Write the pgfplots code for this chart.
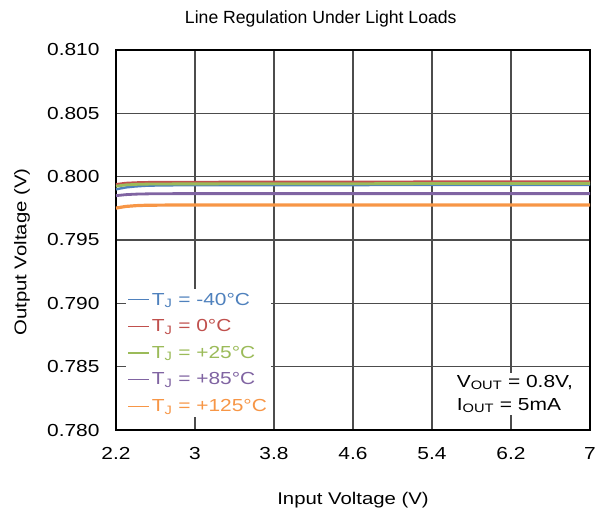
\documentclass[border=0pt]{standalone}
\usepackage{fontspec}
\setmainfont{Liberation Sans}[FakeStretch=1.2]
\newfontfamily\titlefont{Liberation Sans}
\usepackage{pgfplots}
\pgfplotsset{compat=1.18}
\definecolor{cblue}{RGB}{79,129,189}
\definecolor{cred}{RGB}{192,80,77}
\definecolor{cgreen}{RGB}{155,187,89}
\definecolor{cpurple}{RGB}{128,100,162}
\definecolor{corange}{RGB}{247,150,70}
\begin{document}
\begin{tikzpicture}[x=1bp,y=1bp]
\useasboundingbox (-116,-83) rectangle (485,430);
\begin{axis}[
  at={(0,0)}, anchor=south west,
  scale only axis, width=474bp, height=380bp,
  xmin=2.2, xmax=7, ymin=0.780, ymax=0.810,
  xtick={2.2,3,3.8,4.6,5.4,6.2,7},
  ytick={0.780,0.785,0.790,0.795,0.800,0.805,0.810},
  yticklabel style={/pgf/number format/fixed, /pgf/number format/fixed zerofill, /pgf/number format/precision=3, xshift=-13bp},
  xticklabel style={/pgf/number format/fixed, /pgf/number format/precision=1, yshift=-14bp},
  /pgf/number format/assume math mode=true,
  ticklabel style={font=\fontsize{17.5}{20}\selectfont},
  tick style={draw=none},
  grid=major, major grid style={draw=black!70, line width=1.2bp},
  axis line style={line width=1.8bp, black},
  title={Line Regulation Under Light Loads},
  title style={font=\titlefont\fontsize{17.7}{20}\selectfont, at={(axis description cs:0.432,1)}, anchor=center, yshift=25bp},
  xlabel={Input Voltage (V)}, ylabel={Output Voltage (V)},
  label style={font=\fontsize{17}{19}\selectfont},
  xlabel style={at={(axis description cs:0.5,0)}, anchor=center, yshift=-70bp},
  ylabel style={at={(axis description cs:0,0.468)}, anchor=center, yshift=94bp},
  legend cell align=left,
  legend style={at={(0.02,0.372)}, anchor=north west, draw=none, fill=white,
    font=\fontsize{17.5}{20}\selectfont, row sep=9bp, inner sep=2bp},
  legend image code/.code={\draw[#1, line width=1.2bp] (0bp,0bp) -- (21bp,0bp);},
  clip=true,
]
\addplot[cblue, line width=2.4bp] coordinates {(2.2,0.79900) (2.3,0.79915) (2.4,0.79923) (2.5,0.79928) (2.6,0.79930) (2.8,0.79932) (3,0.79932) (4,0.79933) (5,0.79934) (6,0.79935) (7,0.79935)};
\addlegendentry{\textcolor{cblue}{T\textsubscript{J} = -40°C}}
\addplot[cred, line width=2.4bp] coordinates {(2.2,0.79940) (2.3,0.79950) (2.4,0.79954) (2.5,0.79956) (2.6,0.79957) (2.8,0.79958) (3,0.79958) (4,0.79959) (5,0.79960) (6,0.79961) (7,0.79962)};
\addlegendentry{\textcolor{cred}{T\textsubscript{J} = 0°C}}
\addplot[cgreen, line width=2.8bp] coordinates {(2.2,0.79925) (2.3,0.79935) (2.4,0.79939) (2.5,0.79941) (2.6,0.79942) (2.8,0.79943) (3,0.79943) (4,0.79944) (5,0.79945) (6,0.79946) (7,0.79947)};
\addlegendentry{\textcolor{cgreen}{T\textsubscript{J} = +25°C}}
\addplot[cpurple, line width=2.8bp] coordinates {(2.2,0.79850) (2.3,0.79858) (2.4,0.79862) (2.5,0.79864) (2.6,0.79865) (2.8,0.79866) (3,0.79866) (4,0.79866) (5,0.79866) (6,0.79866) (7,0.79866)};
\addlegendentry{\textcolor{cpurple}{T\textsubscript{J} = +85°C}}
\addplot[corange, line width=3.2bp] coordinates {(2.2,0.79752) (2.3,0.79765) (2.4,0.79771) (2.5,0.79774) (2.6,0.79775) (2.8,0.79776) (3,0.79776) (4,0.79776) (5,0.79776) (6,0.79776) (7,0.79776)};
\addlegendentry{\textcolor{corange}{T\textsubscript{J} = +125°C}}
\node[anchor=south west, fill=white, align=left, font=\fontsize{17.5}{23}\selectfont, inner sep=2bp, minimum width=128bp]
  at (axis cs:5.59,0.78117) {V\textsubscript{OUT} = 0.8V,\\I\textsubscript{OUT} = 5mA};
\end{axis}
\end{tikzpicture}
\end{document}
